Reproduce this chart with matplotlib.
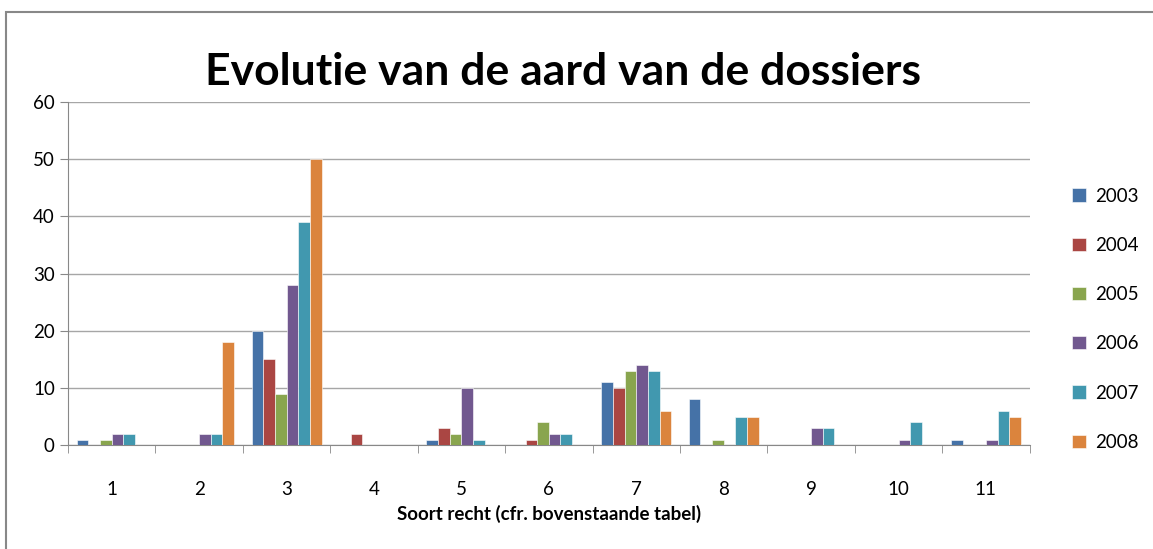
import numpy as np
import matplotlib.pyplot as plt
from matplotlib.patches import Rectangle

categories = [str(i) for i in range(1, 12)]
years = ['2003', '2004', '2005', '2006', '2007', '2008']
v2003 = [1, 0, 20, 0, 1, 0, 11, 8, 0, 0, 1]
v2004 = [0, 0, 15, 2, 3, 1, 10, 0, 0, 0, 0]
v2005 = [1, 0, 9, 0, 2, 4, 13, 1, 0, 0, 0]
v2006 = [2, 2, 28, 0, 10, 2, 14, 0, 3, 1, 1]
v2007 = [2, 2, 39, 0, 1, 2, 13, 5, 3, 4, 6]
v2008 = [0, 18, 50, 0, 0, 0, 6, 5, 0, 0, 5]
series = [v2003, v2004, v2005, v2006, v2007, v2008]
colors = ['#4572A7', '#AA4643', '#89A54E', '#71588F', '#4198AF', '#DB843D']

plt.rcParams['font.family'] = ['Lato', 'DejaVu Sans']

fig = plt.figure(figsize=(11.53, 5.49), dpi=100)
ax = fig.add_axes([0.059, 0.189, 0.834, 0.625])

x = np.arange(len(categories))
w = 0.8 / len(series)
for i, (vals, c, yr) in enumerate(zip(series, colors, years)):
    ax.bar(x - 0.4 + w * (i + 0.5), vals, w, color=c, label=yr,
           edgecolor='white', linewidth=0.4, zorder=3)

ax.set_xlim(-0.5, len(categories) - 0.5)
ax.set_ylim(0, 60)
ax.set_yticks(range(0, 61, 10))
ax.set_xticks(x)
ax.set_xticklabels(categories, fontsize=13.5)
ax.set_xticks(np.arange(-0.5, len(categories)), minor=True)
ax.tick_params(axis='x', which='major', length=0, pad=26)
ax.tick_params(axis='x', which='minor', length=6, color='#888888')
ax.tick_params(axis='y', labelsize=13.5, length=6, color='#888888')
ax.grid(axis='y', color='#a6a6a6', linewidth=1, zorder=0)
for s in ['top', 'right']:
    ax.spines[s].set_visible(False)
for s in ['left', 'bottom']:
    ax.spines[s].set_color('#888888')

ax.set_xlabel('Soort recht (cfr. bovenstaande tabel)', fontsize=13.5,
              fontweight='bold', labelpad=5)
fig.text(0.488, 0.869, 'Evolutie van de aard van de dossiers', fontsize=32,
         fontweight='bold', ha='center', va='center')

ax.legend(loc='upper left', bbox_to_anchor=(1.027, 0.8), frameon=False,
          fontsize=13.5, labelspacing=1.72, handlelength=0.7, handleheight=0.7,
          handletextpad=0.5)

fig.patches.append(Rectangle((0.005, -0.1), 1.2, 1.078, transform=fig.transFigure,
                             fill=False, edgecolor='#888888', linewidth=1.5))

fig.savefig('out.png', dpi=100)
